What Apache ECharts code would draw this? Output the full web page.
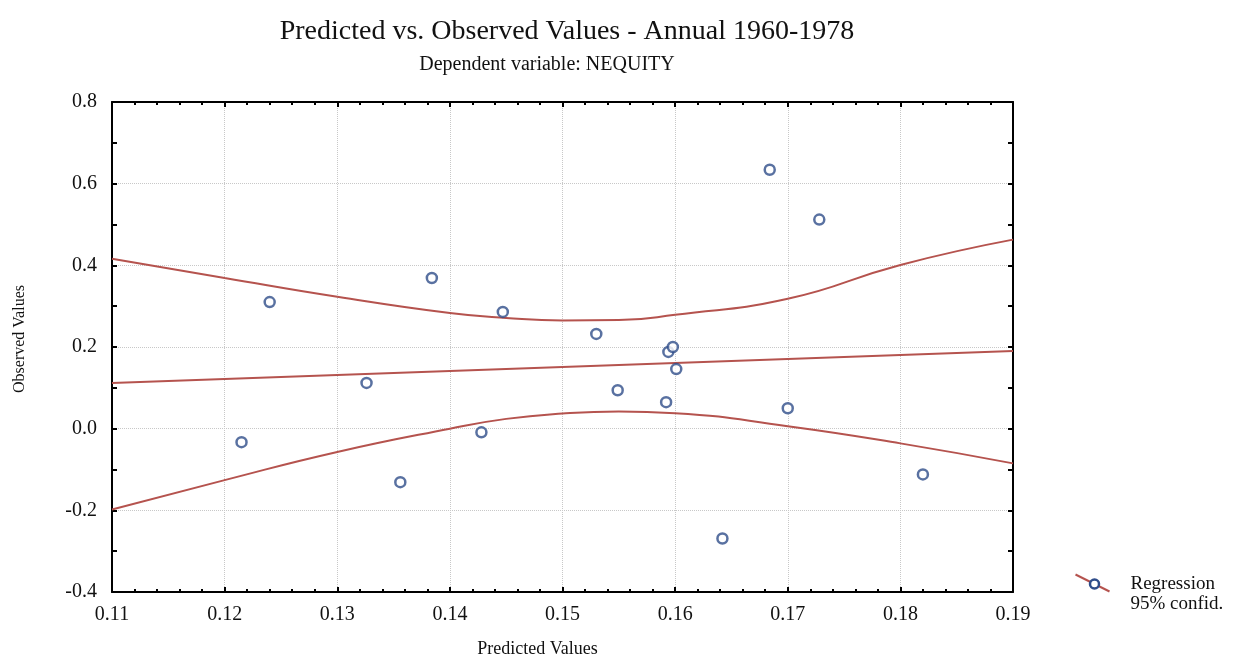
<!DOCTYPE html>
<html>
<head>
  <meta charset="utf-8">
  <script src="https://cdn.jsdelivr.net/npm/echarts@6/dist/echarts.min.js"></script>
  <style>
    html, body { margin: 0; padding: 0; background: #fff; }
    #main { width: 1253px; height: 659px; }
  </style>
</head>
<body>
<div id="main"></div>
<script>
  // observed points (predicted, observed)
  var predicted = [0.1215, 0.1240, 0.1326, 0.1356, 0.1384, 0.1428, 0.1447, 0.1530, 0.1549,
    0.1592, 0.1594, 0.1598, 0.1601, 0.1642, 0.1684, 0.1700, 0.1728, 0.1820];
  var observed = [-0.033, 0.310, 0.112, -0.131, 0.369, -0.009, 0.286, 0.232, 0.094,
    0.065, 0.188, 0.200, 0.146, -0.269, 0.634, 0.050, 0.512, -0.112];

  // fitted line and 95% band
  var fitX = [0.11, 0.19];
  var fitY = [0.112, 0.190];
  var bandX = [0.11, 0.12, 0.13, 0.14, 0.145, 0.15, 0.155, 0.16, 0.17, 0.18, 0.19];
  var upperY = [0.416, 0.369, 0.323, 0.283, 0.271, 0.265, 0.266, 0.279, 0.318, 0.401, 0.463];
  var lowerY = [-0.198, -0.126, -0.057, 0.000, 0.024, 0.037, 0.042, 0.038, 0.006, -0.036, -0.085];

  var serif = 'Liberation Serif';
  var lineColor = '#b5534e';
  var dotColor = '#2f4d8a';

  function zip(xs, ys) {
    return xs.map(function (x, i) { return [x, ys[i]]; });
  }

  var chart = echarts.init(document.getElementById('main'));

  var gridLine = { show: true, lineStyle: { color: '#c8c8c8', type: 'dotted', width: 1 } };
  var frame = { show: true, onZero: false, lineStyle: { color: '#000', width: 2 } };
  var tick = { inside: true, length: 5, lineStyle: { color: '#000', width: 2 } };

  var option = {
    animation: false,
    backgroundColor: '#fff',
    title: [
      {
        text: 'Predicted vs. Observed Values - Annual 1960-1978',
        left: 562, top: 13, textAlign: 'center',
        textStyle: { fontFamily: serif, fontSize: 28, fontWeight: 'normal', color: '#111' }
      },
      {
        text: 'Dependent variable: NEQUITY',
        left: 542, top: 50, textAlign: 'center',
        textStyle: { fontFamily: serif, fontSize: 20, fontWeight: 'normal', color: '#111' }
      }
    ],
    grid: { left: 112, right: 240, top: 102, bottom: 67, outerBoundsMode: 'none', containLabel: false },
    xAxis: [
      {
        type: 'value', min: 0.11, max: 0.19, interval: 0.01,
        name: 'Predicted Values', nameLocation: 'middle', nameGap: 48,
        nameTextStyle: { fontFamily: serif, fontSize: 18, color: '#111', padding: [0, 50, 0, 0] },
        axisLine: frame,
        axisTick: tick,
        minorTick: { show: true, splitNumber: 5, length: 3, lineStyle: { color: '#000', width: 2 } },
        axisLabel: {
          margin: 13, fontFamily: serif, fontSize: 20, color: '#111',
          formatter: function (v) { return v.toFixed(2); }
        },
        splitLine: gridLine
      },
      {
        type: 'value', position: 'top', min: 0.11, max: 0.19, interval: 0.01,
        axisLine: frame,
        axisTick: tick,
        minorTick: { show: true, splitNumber: 5, length: 3, lineStyle: { color: '#000', width: 2 } },
        axisLabel: { show: false },
        splitLine: { show: false }
      }
    ],
    yAxis: [
      {
        type: 'value', min: -0.4, max: 0.8, interval: 0.2,
        name: 'Observed Values', nameLocation: 'middle', nameGap: 84,
        nameTextStyle: { fontFamily: serif, fontSize: 16, color: '#111', padding: [0, 0, 0, 16] },
        axisLine: frame,
        axisTick: tick,
        minorTick: { show: true, splitNumber: 2, length: 5, lineStyle: { color: '#000', width: 2 } },
        axisLabel: {
          margin: 15, fontFamily: serif, fontSize: 20, color: '#111',
          formatter: function (v) { return v.toFixed(1); }
        },
        splitLine: gridLine
      },
      {
        type: 'value', position: 'right', min: -0.4, max: 0.8, interval: 0.2,
        axisLine: frame,
        axisTick: tick,
        minorTick: { show: true, splitNumber: 2, length: 5, lineStyle: { color: '#000', width: 2 } },
        axisLabel: { show: false },
        splitLine: { show: false }
      }
    ],
    series: [
      {
        name: 'Upper 95%', type: 'line', data: zip(bandX, upperY), smooth: 0.5,
        showSymbol: false, lineStyle: { color: lineColor, width: 2 }, z: 2
      },
      {
        name: 'Lower 95%', type: 'line', data: zip(bandX, lowerY), smooth: 0.5,
        showSymbol: false, lineStyle: { color: lineColor, width: 2 }, z: 2
      },
      {
        name: 'Regression', type: 'line', data: zip(fitX, fitY),
        showSymbol: false, lineStyle: { color: lineColor, width: 2 }, z: 2
      },
      {
        name: 'Observed', type: 'scatter', data: zip(predicted, observed),
        symbol: 'circle', symbolSize: 10,
        itemStyle: { color: '#fff', borderColor: dotColor, borderWidth: 2.5 }, z: 3
      }
    ],
    graphic: [
      {
        type: 'group', left: 1073, top: 572,
        children: [
          { type: 'line', shape: { x1: 0, y1: 0, x2: 34, y2: 17 }, style: { stroke: lineColor, lineWidth: 2 } },
          { type: 'circle', shape: { cx: 19, cy: 9.5, r: 4.5 }, style: { fill: '#fff', stroke: dotColor, lineWidth: 2.5 } },
          {
            type: 'text', left: 55, top: 0,
            style: { text: 'Regression\n95% confid.', font: '19px "Liberation Serif"', fill: '#111', lineHeight: 20 }
          }
        ]
      }
    ]
  };

  chart.setOption(option);
</script>
</body>
</html>
